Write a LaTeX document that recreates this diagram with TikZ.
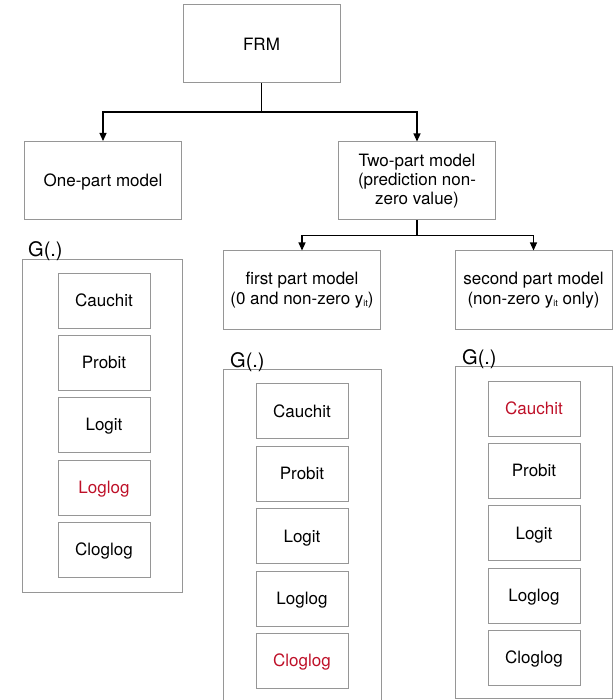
\documentclass[tikz,border=0pt]{standalone}
\usepackage{fontspec}
\setmainfont{TeX Gyre Heros}
\usetikzlibrary{arrows.meta}
\definecolor{boxgray}{RGB}{150,150,150}
\definecolor{hlred}{RGB}{190,16,40}
\tikzset{
  mainbox/.style={draw=boxgray, line width=1pt, minimum width=157pt, minimum height=78pt, inner sep=0pt, align=center, font=\fontsize{17}{20}\selectfont},
  linkbox/.style={draw=boxgray, line width=1pt, minimum width=92pt, minimum height=55pt, inner sep=0pt, text height=12.2pt, text depth=0pt, font=\fontsize{17}{20}\selectfont},
  grpbox/.style={draw=boxgray, line width=1pt},
  glabel/.style={anchor=base west, inner sep=0pt, font=\fontsize{20}{22}\selectfont},
  conn/.style={line width=1.1pt, black},
  arr/.style={conn, -{Triangle[length=8pt,width=7pt]}},
  hl/.style={text=hlred}
}
\newcommand{\subit}{\raisebox{-2.5pt}{\fontsize{9}{9}\selectfont it}}
\begin{document}
\begin{tikzpicture}[x=1pt,y=-1pt]
\useasboundingbox (0,0) rectangle (613,700);
% top level
\node[mainbox, text depth=0pt] (frm) at (261.5,44) {FRM};
\node[mainbox, text depth=0pt] (one) at (103,180.5) {One-part model};
\node[mainbox, font=\fontsize{17}{19}\selectfont] (two) at (417,181) {Two-part model\\(prediction non-\\zero value)};
\node[mainbox, font=\fontsize{17}{20}\selectfont] (first) at (302,290) {first part model\\(0 and non-zero y\subit)};
\node[mainbox, font=\fontsize{17}{20}\selectfont] (second) at (533.5,290) {second part model\\(non-zero y\subit\ only)};
% connectors
\coordinate (j1) at (261.5,112);
\coordinate (j2) at (417,235.5);
\draw[conn] (frm.south) -- (j1);
\draw[arr] (j1) -| (one.north);
\draw[arr] (j1) -| (two.north);
\draw[conn] (two.south) -- (j2);
\draw[arr] (j2) -| (first.north);
\draw[arr] (j2) -| (second.north);
% group boxes
\draw[grpbox] (22,259) rectangle (182,592);
\node[glabel] (gl1) at (28,257) {G(.)};
\draw[grpbox] (223,701) -- (223,369) -- (381,369) -- (381,701);
\node[glabel] (gl2) at (230,367) {G(.)};
\draw[grpbox] (455,366) rectangle (612,698.5);
\node[glabel] (gl3) at (462,364) {G(.)};
% left links
\node[linkbox] (l1) at (104,300.5) {Cauchit};
\node[linkbox] (l2) at (104,362.5) {Probit};
\node[linkbox] (l3) at (104,424.5) {Logit};
\node[linkbox, hl] (l4) at (104,487.5) {Loglog};
\node[linkbox] (l5) at (104,549.5) {Cloglog};
% middle links
\node[linkbox] (m1) at (302,411) {Cauchit};
\node[linkbox] (m2) at (302,473.5) {Probit};
\node[linkbox] (m3) at (302,536) {Logit};
\node[linkbox] (m4) at (302,598.5) {Loglog};
\node[linkbox, hl] (m5) at (302,660.5) {Cloglog};
% right links
\node[linkbox, hl] (r1) at (534,408.5) {Cauchit};
\node[linkbox] (r2) at (534,470.5) {Probit};
\node[linkbox] (r3) at (534,533) {Logit};
\node[linkbox] (r4) at (534,595.5) {Loglog};
\node[linkbox] (r5) at (534,657.5) {Cloglog};
\end{tikzpicture}
\end{document}
